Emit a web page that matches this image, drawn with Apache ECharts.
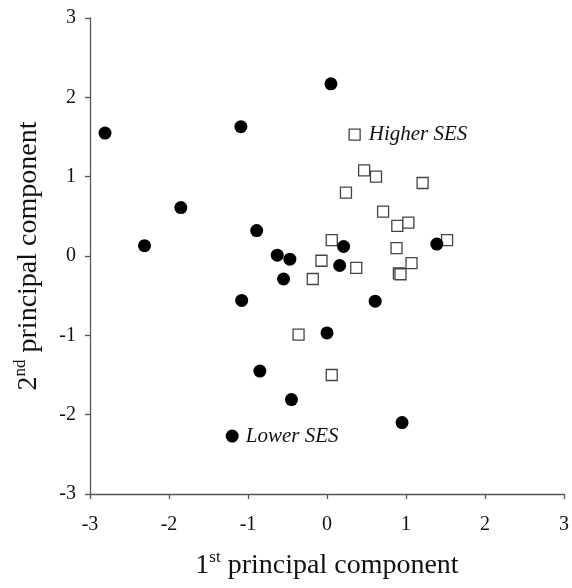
<!DOCTYPE html>
<html>
<head>
<meta charset="utf-8">
<script src="https://cdn.jsdelivr.net/npm/echarts@6/dist/echarts.min.js"></script>
<style>html,body{margin:0;padding:0;background:#fff;}#c{width:572px;height:588px;}</style>
</head>
<body>
<div id="c"></div>
<script>
// Higher SES (open squares)
const higherSES = [
  [0.47, 1.08], [0.62, 1.00], [1.21, 0.92], [0.24, 0.80], [0.71, 0.56],
  [0.89, 0.38], [1.03, 0.42], [0.06, 0.20], [1.52, 0.20], [0.88, 0.10],
  [-0.07, -0.06], [0.37, -0.15], [1.07, -0.09], [0.91, -0.22], [0.93, -0.23],
  [-0.18, -0.29], [-0.36, -0.99], [0.06, -1.50]
];
// Lower SES (filled circles)
const lowerSES = [
  [-2.81, 1.55], [-1.09, 1.63], [-1.85, 0.61], [-2.31, 0.13], [-0.89, 0.32],
  [-0.63, 0.01], [-0.47, -0.04], [0.05, 2.17], [0.21, 0.12], [1.39, 0.15],
  [-0.55, -0.29], [-1.08, -0.56], [-0.85, -1.45], [-0.45, -1.81],
  [0.16, -0.12], [0.61, -0.57], [0.00, -0.97], [0.95, -2.10]
];
// In-plot legend markers
const legendHigher = [[0.35, 1.53]];
const legendLower = [[-1.20, -2.27]];
const legendHigherLabel = 'Higher SES';
const legendLowerLabel = 'Lower SES';
const xTicks = [-3, -2, -1, 0, 1, 2, 3];
const yTicks = [-3, -2, -1, 0, 1, 2, 3];

const serif = '"Liberation Serif", "DejaVu Serif", serif';
const axisColor = '#555';
const textColor = '#111';

const titleRich = {
  n: {fontFamily: serif, fontSize: 28, color: textColor, verticalAlign: 'bottom', lineHeight: 31},
  s: {fontFamily: serif, fontSize: 17, color: textColor, verticalAlign: 'top', lineHeight: 31, padding: [0, 0, 12, 0]}
};

const chart = echarts.init(document.getElementById('c'), null, {renderer: 'canvas'});
chart.setOption({
  animation: false,
  backgroundColor: '#fff',
  grid: {left: 90, right: 6, top: 18, bottom: 94},
  xAxis: {
    type: 'value',
    min: xTicks[0], max: xTicks[xTicks.length - 1], interval: 1,
    axisLine: {show: true, onZero: false, lineStyle: {color: axisColor, width: 1.3}},
    axisTick: {show: true, inside: false, length: 5, lineStyle: {color: axisColor, width: 1.3}},
    splitLine: {show: false},
    axisLabel: {fontFamily: serif, fontSize: 20, color: textColor, margin: 21},
    name: '{n|1}{s|st}{n| principal component}',
    nameLocation: 'middle',
    nameGap: 55,
    nameTextStyle: {rich: titleRich}
  },
  yAxis: {
    type: 'value',
    min: yTicks[0], max: yTicks[yTicks.length - 1], interval: 1,
    axisLine: {show: true, onZero: false, lineStyle: {color: axisColor, width: 1.3}},
    axisTick: {show: true, inside: false, length: 5, lineStyle: {color: axisColor, width: 1.3}},
    splitLine: {show: false},
    axisLabel: {fontFamily: serif, fontSize: 20, color: textColor, margin: 14},
    name: '{n|2}{s|nd}{n| principal component}',
    nameLocation: 'middle',
    nameGap: 47,
    nameRotate: 90,
    nameTextStyle: {rich: titleRich}
  },
  series: [
    {
      type: 'scatter', data: higherSES, symbol: 'rect', symbolSize: 11,
      itemStyle: {color: '#fff', borderColor: '#444', borderWidth: 1.3, opacity: 1}, z: 2
    },
    {
      type: 'scatter', data: legendHigher, symbol: 'rect', symbolSize: 11,
      itemStyle: {color: '#fff', borderColor: '#444', borderWidth: 1.3, opacity: 1}, z: 2,
      label: {show: true, position: 'right', distance: 8, formatter: legendHigherLabel,
        fontFamily: serif, fontStyle: 'italic', fontSize: 21, color: textColor}
    },
    {
      type: 'scatter', data: lowerSES, symbol: 'circle', symbolSize: 13,
      itemStyle: {color: '#000', opacity: 1}, z: 3
    },
    {
      type: 'scatter', data: legendLower, symbol: 'circle', symbolSize: 13,
      itemStyle: {color: '#000', opacity: 1}, z: 3,
      label: {show: true, position: 'right', distance: 7, formatter: legendLowerLabel,
        fontFamily: serif, fontStyle: 'italic', fontSize: 21, color: textColor}
    }
  ]
});
</script>
</body>
</html>
